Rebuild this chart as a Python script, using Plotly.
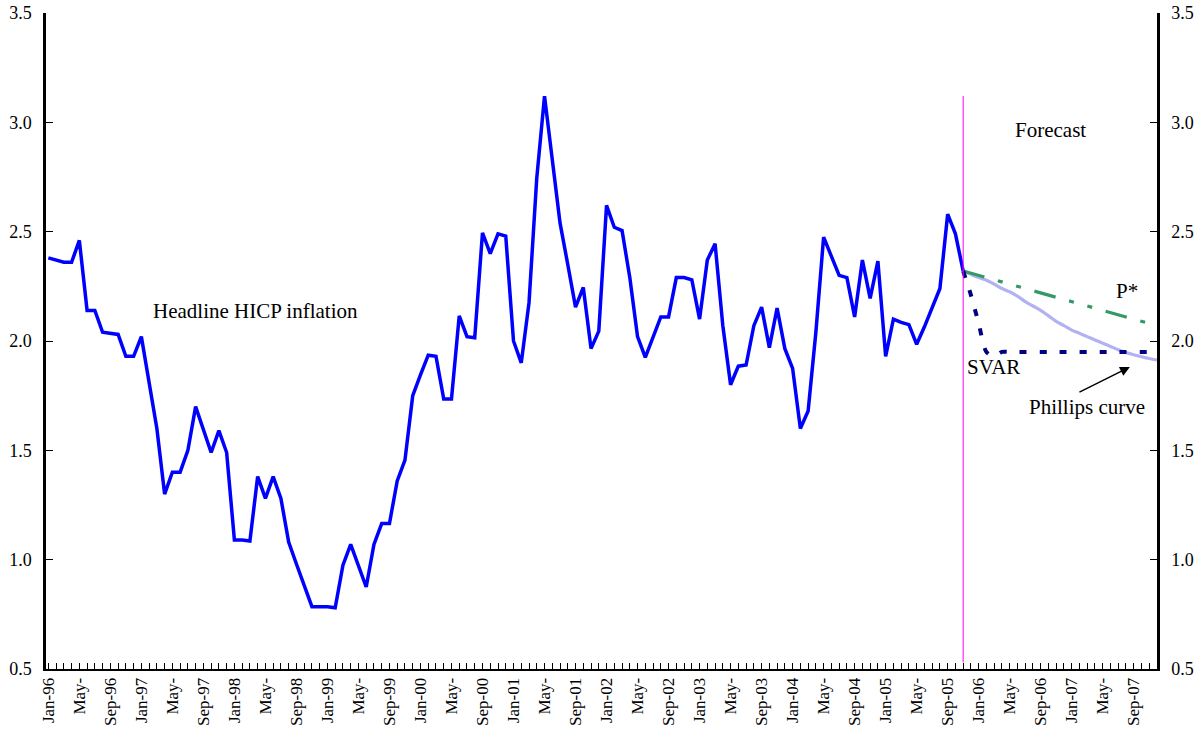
import plotly.graph_objects as go

# Headline HICP inflation, monthly, Jan-96 .. Nov-05 (% y-o-y)
hicp = [
    2.38, 2.37, 2.36, 2.36, 2.46, 2.14, 2.14, 2.04, 2.035, 2.03, 1.93, 1.93,
    2.02, 1.81, 1.60, 1.30, 1.40, 1.40, 1.50, 1.70, 1.60, 1.49, 1.59, 1.49,
    1.09, 1.09, 1.085, 1.38, 1.28, 1.38, 1.28, 1.08, 0.98, 0.88, 0.785, 0.785,
    0.785, 0.78, 0.975, 1.07, 0.975, 0.875, 1.07, 1.165, 1.165, 1.36, 1.455, 1.75,
    1.845, 1.935, 1.93, 1.735, 1.735, 2.115, 2.02, 2.015, 2.495, 2.40, 2.49, 2.48,
    2.00, 1.90, 2.175, 2.745, 3.12, 2.83, 2.54, 2.35, 2.155, 2.245, 1.965, 2.045,
    2.62, 2.52, 2.505, 2.29, 2.02, 1.925, 2.02, 2.11, 2.11, 2.29, 2.29, 2.28,
    2.10, 2.37, 2.445, 2.07, 1.80, 1.885, 1.89, 2.07, 2.155, 1.97, 2.15, 1.965,
    1.875, 1.60, 1.68, 2.04, 2.475, 2.385, 2.30, 2.29, 2.11, 2.37, 2.195, 2.365,
    1.93, 2.10, 2.085, 2.075, 1.985, 2.065, 2.15, 2.24, 2.58, 2.49, 2.32,
]

# Forecast paths, Nov-05 .. Dec-07
p_star = [
    2.32, 2.31, 2.30, 2.29, 2.28, 2.27, 2.26, 2.25, 2.24, 2.23, 2.22, 2.21, 2.20,
    2.19, 2.18, 2.17, 2.16, 2.15, 2.14, 2.13, 2.12, 2.11, 2.10, 2.09, 2.08, 2.065,
]
svar = [
    2.32, 2.21, 2.08, 1.95, 1.93, 1.95, 1.95, 1.95, 1.95, 1.95, 1.95, 1.95, 1.95,
    1.95, 1.95, 1.95, 1.95, 1.95, 1.95, 1.95, 1.95, 1.95, 1.95, 1.95, 1.95, 1.95,
]
phillips = [
    2.32, 2.305, 2.29, 2.278, 2.26, 2.24, 2.225, 2.205, 2.18, 2.16, 2.14, 2.115, 2.09,
    2.07, 2.05, 2.035, 2.02, 2.005, 1.99, 1.975, 1.96, 1.947, 1.937, 1.928, 1.92, 1.913,
]

tick_labels = [
    "Jan-96", "May-", "Sep-96", "Jan-97", "May-", "Sep-97", "Jan-98", "May-", "Sep-98",
    "Jan-99", "May-", "Sep-99", "Jan-00", "May-", "Sep-00", "Jan-01", "May-", "Sep-01",
    "Jan-02", "May-", "Sep-02", "Jan-03", "May-", "Sep-03", "Jan-04", "May-", "Sep-04",
    "Jan-05", "May-", "Sep-05", "Jan-06", "May-", "Sep-06", "Jan-07", "May-", "Sep-07",
]
n_months = 144
forecast_start = len(hicp) - 1

x_hist = list(range(len(hicp)))
x_fc = list(range(forecast_start, forecast_start + len(p_star)))
tick_pos = list(range(0, 4 * len(tick_labels), 4))

FONT = "Liberation Serif, Times New Roman, serif"

fig = go.Figure()
fig.add_trace(go.Scatter(x=x_fc, y=phillips, mode="lines",
                         line=dict(color="#B2B2F2", width=3.2, shape="spline")))
fig.add_trace(go.Scatter(x=x_fc, y=p_star, mode="lines",
                         line=dict(color="#339966", width=3.2,
                                   dash="22px,14px,5px,14px,5px,14px")))
fig.add_trace(go.Scatter(x=x_fc, y=svar, mode="lines",
                         line=dict(color="#000080", width=4, dash="7px,13px",
                                   shape="spline", smoothing=0.8)))
fig.add_trace(go.Scatter(x=x_hist, y=hicp, mode="lines",
                         line=dict(color="#0000FF", width=3.5)))
# invisible trace to carry the right-hand axis
fig.add_trace(go.Scatter(x=[0], y=[None], yaxis="y2", showlegend=False,
                         hoverinfo="skip"))

# forecast divider
fig.add_shape(type="line", xref="x", yref="y", x0=forecast_start, x1=forecast_start,
              y0=0.53, y1=3.12, line=dict(color="#FF00FF", width=1))

ann_font = dict(family=FONT, size=21, color="black")
fig.add_annotation(x=26.7, y=2.137, text="Headline HICP inflation", showarrow=False, font=ann_font)
fig.add_annotation(x=129.3, y=2.965, text="Forecast", showarrow=False, font=ann_font)
fig.add_annotation(x=139.1, y=2.229, text="P*", showarrow=False, font=ann_font)
fig.add_annotation(x=121.9, y=1.881, text="SVAR", showarrow=False, font=ann_font)
fig.add_annotation(x=134.0, y=1.70, text="Phillips curve", showarrow=False, font=ann_font)
fig.add_annotation(x=139.5, y=1.881, ax=132.8, ay=1.7625, axref="x", ayref="y",
                   xref="x", yref="y", text="", showarrow=True, arrowhead=2,
                   arrowsize=1.3, arrowwidth=1.5, arrowcolor="black")

axis_font = dict(family=FONT, size=18, color="black")
yaxis_common = dict(range=[0.5, 3.5], dtick=0.5, tick0=0.5, tickformat=".1f",
                    showgrid=False, zeroline=False, showline=True, linecolor="black",
                    linewidth=2.5, ticks="inside", ticklen=7, tickcolor="black",
                    tickfont=axis_font, ticklabelstandoff=8, automargin=False)

fig.update_layout(
    width=1201, height=731,
    margin=dict(l=46, r=44, t=13, b=62),
    paper_bgcolor="white", plot_bgcolor="white",
    showlegend=False,
    xaxis=dict(range=[-0.3, n_months - 1], tickmode="array", tickvals=tick_pos,
               ticktext=tick_labels, tickangle=-90,
               tickfont=dict(family=FONT, size=17, color="black"),
               showgrid=False, zeroline=False, showline=True, linecolor="black", linewidth=2,
               ticks="inside", ticklen=6, tickcolor="black", automargin=False,
               minor=dict(tickmode="linear", tick0=0, dtick=1, ticks="inside",
                          ticklen=6, tickcolor="black", showgrid=False)),
    yaxis=dict(**yaxis_common),
    yaxis2=dict(**yaxis_common, overlaying="y", side="right"),
)

fig.write_html("out.html")
